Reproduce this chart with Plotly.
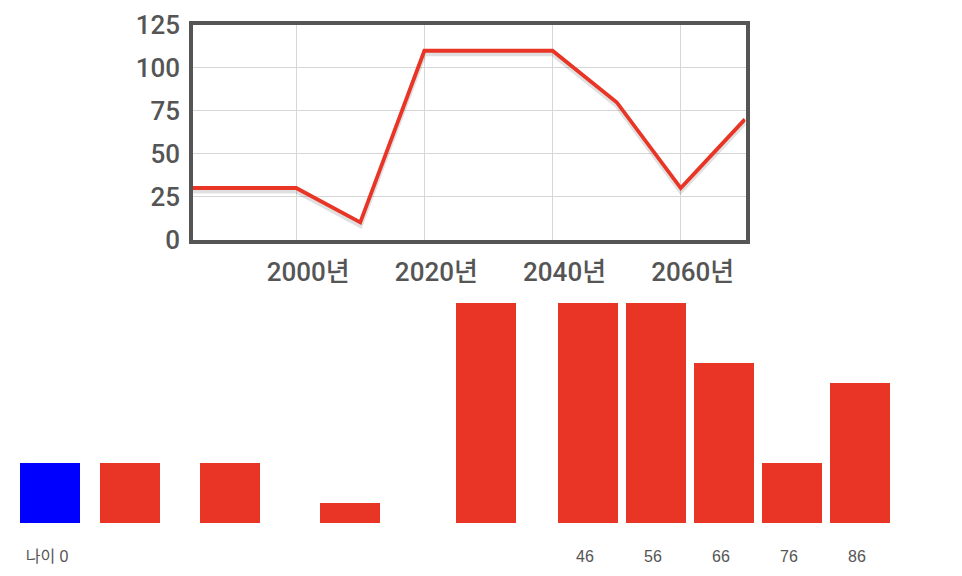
import plotly.graph_objects as go

# Top line chart data
years = [1980, 1990, 2000, 2010, 2020, 2030, 2040, 2050, 2060, 2070]
values = [30, 30, 30, 10, 110, 110, 110, 80, 30, 70]
year_ticks = [2000, 2020, 2040, 2060]
year_tick_labels = ["2000년", "2020년", "2040년", "2060년"]
y_ticks = [0, 25, 50, 75, 100, 125]

# Bottom bar chart data
bar_pos = [-33.1, -21.4, -6.6, 11, 31, 46, 56, 66, 76, 86]
bar_values = [30, 30, 30, 10, 110, 110, 110, 80, 30, 70]
bar_colors = ["#0000ff"] + ["#e83526"] * 9
age_ticks = [-33.1, 46, 56, 66, 76, 86]
age_tick_labels = ["나이 0", "46", "56", "66", "76", "86"]

RED = "#e83526"
GRAY = "#555555"
FONT_TOP = "Roboto, 'Noto Sans CJK KR', sans-serif"
FONT_BOT = "'Liberation Sans', 'Noto Sans CJK KR', sans-serif"

W, H = 962, 576
OFF = 8  # page body margin


def fx(p):
    return (p - OFF) / W


def fy(p):
    return 1 - (p - OFF) / H


fig = go.Figure()

# soft shadow under the line
fig.add_trace(go.Scatter(
    x=years, y=[v - 1.8 for v in values], mode="lines",
    line=dict(color="rgba(0,0,0,0.12)", width=5),
    hoverinfo="skip", showlegend=False, xaxis="x", yaxis="y"))
fig.add_trace(go.Scatter(
    x=years, y=values, mode="lines",
    line=dict(color=RED, width=3.8),
    showlegend=False, xaxis="x", yaxis="y"))

fig.add_trace(go.Bar(
    x=bar_pos, y=bar_values, width=8.8,
    marker=dict(color=bar_colors, line=dict(width=0)),
    showlegend=False, xaxis="x2", yaxis="y2"))

fig.update_layout(
    width=W, height=H,
    margin=dict(l=0, r=0, t=0, b=0, pad=0, autoexpand=False),
    paper_bgcolor="white", plot_bgcolor="white",
    font=dict(family=FONT_TOP, color=GRAY),
    xaxis=dict(
        domain=[fx(193), fx(745.5)], range=[1983.9, 2070.1],
        tickvals=year_ticks, ticktext=year_tick_labels,
        showgrid=True, gridcolor="#d6d6d6", gridwidth=1,
        showline=True, linecolor=GRAY, linewidth=3.5, mirror=True,
        ticks="", zeroline=False, automargin=False,
        tickfont=dict(size=26, color=GRAY, family=FONT_TOP, weight=500),
        ticklabelstandoff=7, ticklabelshift=12,
    ),
    yaxis=dict(
        domain=[fy(239.5), fy(25)], range=[0, 125],
        tickvals=y_ticks,
        showgrid=True, gridcolor="#d6d6d6", gridwidth=1,
        showline=True, linecolor=GRAY, linewidth=3.5, mirror=True,
        ticks="", zeroline=False, automargin=False,
        tickfont=dict(size=26, color=GRAY, family=FONT_TOP, weight=500),
        ticklabelstandoff=4,
    ),
    xaxis2=dict(
        domain=[0, 1], range=[46 - (588 - OFF) / 6.8, 46 + (W + OFF - 588) / 6.8],
        anchor="y2",
        tickvals=age_ticks, ticktext=age_tick_labels,
        showgrid=False, showline=False, zeroline=False, automargin=False,
        ticks="outside", ticklen=19, tickcolor="rgba(0,0,0,0)",
        tickfont=dict(size=16, color=GRAY, family=FONT_BOT),
        ticklabelshift=-3,
    ),
    yaxis2=dict(
        domain=[fy(523), fy(303)], range=[0, 110], anchor="x2",
        visible=False, automargin=False,
    ),
    bargap=0,
)

fig.write_html("out.html")
